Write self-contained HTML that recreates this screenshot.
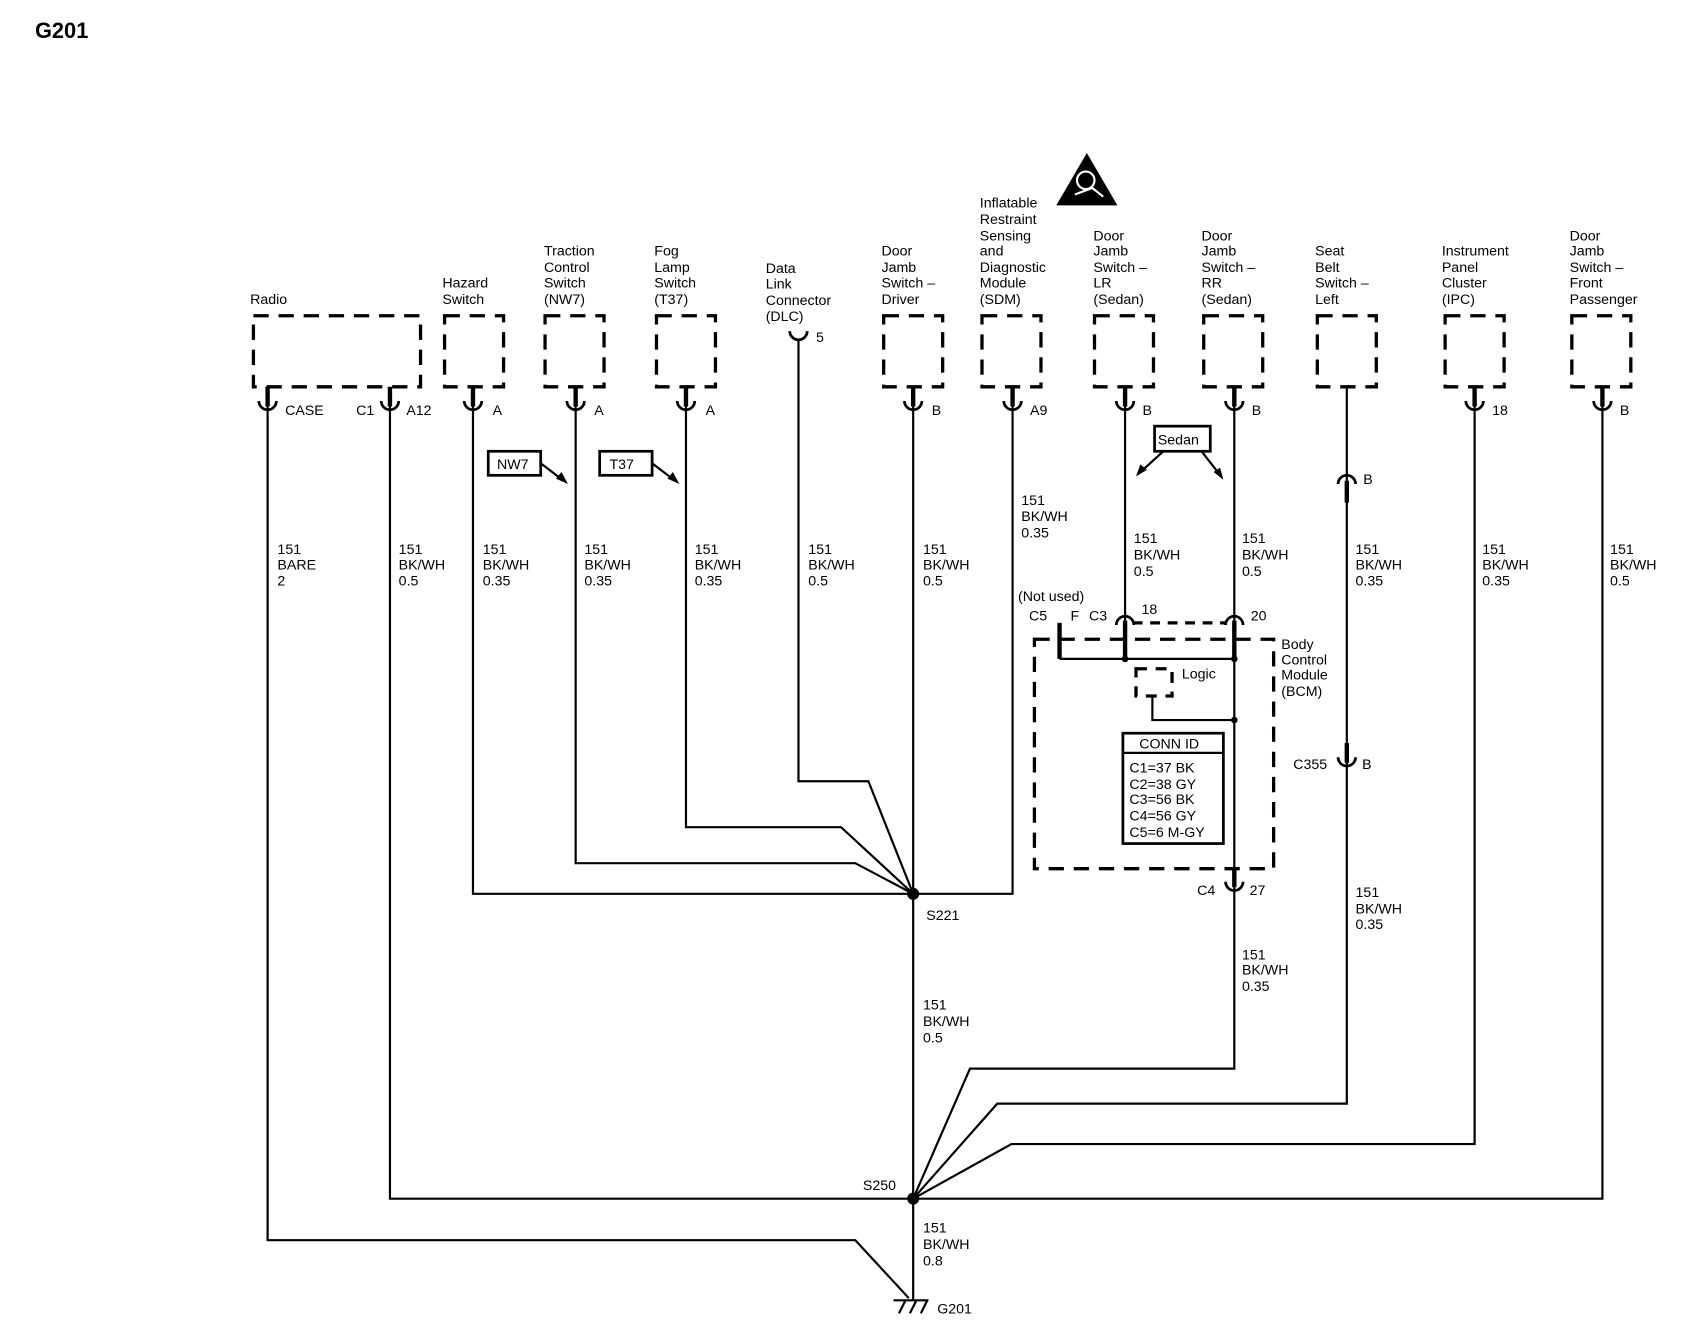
<!DOCTYPE html>
<html><head><meta charset="utf-8"><style>
html,body{margin:0;padding:0;background:#fff}
svg{display:block}
text{font-family:"Liberation Sans",Arial,sans-serif;font-size:13px;fill:#000}
</style></head><body>
<svg width="1704" height="1344" viewBox="0 0 1560 1230" preserveAspectRatio="none" xmlns="http://www.w3.org/2000/svg">
<text x="32" y="35" style="font-size:20px;font-weight:bold">G201</text>

<!-- airbag triangle -->
<polygon points="995,140 967,188 1023,188" fill="#000"/>
<circle cx="994" cy="165" r="8" fill="none" stroke="#fff" stroke-width="2"/>
<path d="M984 178 L1000 172 L1010 180" fill="none" stroke="#fff" stroke-width="2"/>

<!-- dashed component boxes -->
<g fill="none" stroke="#000" stroke-width="3" stroke-dasharray="14 9">
<rect x="232" y="289" width="153" height="65"/>
<rect x="407" y="289" width="54" height="65"/>
<rect x="499" y="289" width="54" height="65"/>
<rect x="601" y="289" width="54" height="65"/>
<rect x="809" y="289" width="54" height="65"/>
<rect x="899" y="289" width="54" height="65"/>
<rect x="1002" y="289" width="54" height="65"/>
<rect x="1102" y="289" width="54" height="65"/>
<rect x="1206" y="289" width="54" height="65"/>
<rect x="1323" y="289" width="54" height="65"/>
<rect x="1439" y="289" width="54" height="65"/>
<rect x="947" y="585" width="219" height="210"/>
<rect x="1040" y="612" width="33" height="25" stroke-dasharray="10 8"/>
</g>
<line x1="1037" y1="570" x2="1122" y2="570" stroke="#000" stroke-width="3" stroke-dasharray="9 7"/>

<!-- connector tabs and cups -->
<g stroke="#000" stroke-width="4" fill="none">
<path d="M245 354V372M357 354V372M433 354V372M527 354V372M628 354V372M836 354V372M927 354V372M1030 354V372M1130 354V372M1350 354V372M1467 354V372"/>
<path d="M1233 440V460M1233 680V698M970 570V603M1030 568V603M1130 568V603M1130 795V812"/>
</g>
<g stroke="#000" stroke-width="2.5" fill="none">
<path d="M237 367A8 8 0 0 0 253 367M349 367A8 8 0 0 0 365 367M425 367A8 8 0 0 0 441 367M519 367A8 8 0 0 0 535 367M620 367A8 8 0 0 0 636 367M828 367A8 8 0 0 0 844 367M919 367A8 8 0 0 0 935 367M1022 367A8 8 0 0 0 1038 367M1122 367A8 8 0 0 0 1138 367M1342 367A8 8 0 0 0 1358 367M1459 367A8 8 0 0 0 1475 367"/>
<path d="M723 303A8 8 0 0 0 739 303"/>
<path d="M1225 443A8 8 0 0 1 1241 443"/>
<path d="M1225 693A8 8 0 0 0 1241 693"/>
<path d="M1022 572A8 8 0 0 1 1038 572M1122 572A8 8 0 0 1 1138 572"/>
<path d="M1122 807A8 8 0 0 0 1138 807"/>
</g>

<!-- wires -->
<g stroke="#000" stroke-width="2" fill="none">
<path d="M245 372V1135H783L832 1188"/>
<path d="M357 372V1097H1467V372"/>
<path d="M433 372V818H927V372"/>
<path d="M527 372V790H783L836 818"/>
<path d="M628 372V757H770L836 818"/>
<path d="M731 311V715H795L836 818"/>
<path d="M836 372V1190"/>
<path d="M1030 372V568"/>
<path d="M1130 372V978H888L836 1097"/>
<path d="M1233 354V1010H913L836 1097"/>
<path d="M1350 372V1047H926L836 1097"/>
<path d="M970 603H1130M1055 637V659H1130"/>
<path d="M818 1190H850M823 1202L829 1190M833 1202L839 1190M843 1202L849 1190"/>
</g>
<g fill="#000">
<circle cx="836" cy="818" r="5.5"/><circle cx="836" cy="1097" r="5.5"/>
<circle cx="1030" cy="603" r="3"/><circle cx="1130" cy="603" r="3"/><circle cx="1130" cy="659" r="3"/>
</g>

<!-- CONN ID box -->
<rect x="1028" y="671" width="92" height="101" fill="none" stroke="#000" stroke-width="2.5"/>
<line x1="1028" y1="689" x2="1120" y2="689" stroke="#000" stroke-width="2"/>
<text x="1043" y="685">CONN ID</text>
<text x="1034" y="707">C1=37 BK</text>
<text x="1034" y="722">C2=38 GY</text>
<text x="1034" y="736">C3=56 BK</text>
<text x="1034" y="751">C4=56 GY</text>
<text x="1034" y="766">C5=6 M-GY</text>
<text x="1082" y="621">Logic</text>

<!-- option boxes -->
<g fill="none" stroke="#000" stroke-width="2.5">
<rect x="447" y="413" width="48" height="22"/><rect x="549" y="413" width="48" height="22"/><rect x="1057" y="390" width="51" height="23"/>
</g>
<g stroke="#000" stroke-width="2" fill="none">
<path d="M495 424L516 440M597 424L618 440M1065 413L1043 433M1100 413L1118 436"/>
</g>
<g fill="#000">
<polygon points="520,443 509,438 514,432"/><polygon points="622,443 611,438 616,432"/>
<polygon points="1040,436 1044,425 1050,430"/><polygon points="1120,439 1111,432 1117,428"/>
</g>
<text x="455" y="429">NW7</text><text x="558" y="429">T37</text><text x="1060" y="407">Sedan</text>

<!-- component labels -->
<text x="229" y="278">Radio</text>
<text x="405" y="263">Hazard<tspan x="405" y="278">Switch</tspan></text>
<text x="498" y="234">Traction<tspan x="498" y="249">Control</tspan><tspan x="498" y="263">Switch</tspan><tspan x="498" y="278">(NW7)</tspan></text>
<text x="599" y="234">Fog<tspan x="599" y="249">Lamp</tspan><tspan x="599" y="263">Switch</tspan><tspan x="599" y="278">(T37)</tspan></text>
<text x="701" y="250">Data<tspan x="701" y="264">Link</tspan><tspan x="701" y="279">Connector</tspan><tspan x="701" y="294">(DLC)</tspan></text>
<text x="807" y="234">Door<tspan x="807" y="249">Jamb</tspan><tspan x="807" y="263">Switch –</tspan><tspan x="807" y="278">Driver</tspan></text>
<text x="897" y="190">Inflatable<tspan x="897" y="205">Restraint</tspan><tspan x="897" y="220">Sensing</tspan><tspan x="897" y="234">and</tspan><tspan x="897" y="249">Diagnostic</tspan><tspan x="897" y="263">Module</tspan><tspan x="897" y="278">(SDM)</tspan></text>
<text x="1001" y="220">Door<tspan x="1001" y="234">Jamb</tspan><tspan x="1001" y="249">Switch –</tspan><tspan x="1001" y="263">LR</tspan><tspan x="1001" y="278">(Sedan)</tspan></text>
<text x="1100" y="220">Door<tspan x="1100" y="234">Jamb</tspan><tspan x="1100" y="249">Switch –</tspan><tspan x="1100" y="263">RR</tspan><tspan x="1100" y="278">(Sedan)</tspan></text>
<text x="1204" y="234">Seat<tspan x="1204" y="249">Belt</tspan><tspan x="1204" y="263">Switch –</tspan><tspan x="1204" y="278">Left</tspan></text>
<text x="1320" y="234">Instrument<tspan x="1320" y="249">Panel</tspan><tspan x="1320" y="263">Cluster</tspan><tspan x="1320" y="278">(IPC)</tspan></text>
<text x="1437" y="220">Door<tspan x="1437" y="234">Jamb</tspan><tspan x="1437" y="249">Switch –</tspan><tspan x="1437" y="263">Front</tspan><tspan x="1437" y="278">Passenger</tspan></text>

<!-- pin labels -->
<text x="261" y="380">CASE</text><text x="326" y="380">C1</text><text x="372" y="380">A12</text>
<text x="451" y="380">A</text><text x="544" y="380">A</text><text x="646" y="380">A</text>
<text x="747" y="313">5</text><text x="853" y="380">B</text><text x="943" y="380">A9</text>
<text x="1046" y="380">B</text><text x="1146" y="380">B</text><text x="1366" y="380">18</text><text x="1483" y="380">B</text>
<text x="1248" y="443">B</text><text x="1184" y="704">C355</text><text x="1247" y="704">B</text>
<text x="932" y="550">(Not used)</text>
<text x="942" y="568">C5</text><text x="980" y="568">F</text><text x="997" y="568">C3</text><text x="1045" y="562">18</text><text x="1145" y="568">20</text>
<text x="1096" y="819">C4</text><text x="1144" y="819">27</text>
<text x="1173" y="594">Body<tspan x="1173" y="608">Control</tspan><tspan x="1173" y="622">Module</tspan><tspan x="1173" y="637">(BCM)</tspan></text>
<text x="848" y="842">S221</text><text x="790" y="1089">S250</text><text x="858" y="1202">G201</text>

<!-- wire labels -->
<text x="254" y="507">151<tspan x="254" y="521">BARE</tspan><tspan x="254" y="536">2</tspan></text>
<text x="365" y="507">151<tspan x="365" y="521">BK/WH</tspan><tspan x="365" y="536">0.5</tspan></text>
<text x="442" y="507">151<tspan x="442" y="521">BK/WH</tspan><tspan x="442" y="536">0.35</tspan></text>
<text x="535" y="507">151<tspan x="535" y="521">BK/WH</tspan><tspan x="535" y="536">0.35</tspan></text>
<text x="636" y="507">151<tspan x="636" y="521">BK/WH</tspan><tspan x="636" y="536">0.35</tspan></text>
<text x="740" y="507">151<tspan x="740" y="521">BK/WH</tspan><tspan x="740" y="536">0.5</tspan></text>
<text x="845" y="507">151<tspan x="845" y="521">BK/WH</tspan><tspan x="845" y="536">0.5</tspan></text>
<text x="935" y="462">151<tspan x="935" y="477">BK/WH</tspan><tspan x="935" y="492">0.35</tspan></text>
<text x="1038" y="497">151<tspan x="1038" y="512">BK/WH</tspan><tspan x="1038" y="527">0.5</tspan></text>
<text x="1137" y="497">151<tspan x="1137" y="512">BK/WH</tspan><tspan x="1137" y="527">0.5</tspan></text>
<text x="1241" y="507">151<tspan x="1241" y="521">BK/WH</tspan><tspan x="1241" y="536">0.35</tspan></text>
<text x="1357" y="507">151<tspan x="1357" y="521">BK/WH</tspan><tspan x="1357" y="536">0.35</tspan></text>
<text x="1474" y="507">151<tspan x="1474" y="521">BK/WH</tspan><tspan x="1474" y="536">0.5</tspan></text>
<text x="1241" y="821">151<tspan x="1241" y="836">BK/WH</tspan><tspan x="1241" y="850">0.35</tspan></text>
<text x="1137" y="878">151<tspan x="1137" y="892">BK/WH</tspan><tspan x="1137" y="907">0.35</tspan></text>
<text x="845" y="924">151<tspan x="845" y="939">BK/WH</tspan><tspan x="845" y="954">0.5</tspan></text>
<text x="845" y="1128">151<tspan x="845" y="1143">BK/WH</tspan><tspan x="845" y="1158">0.8</tspan></text>
</svg>
</body></html>
